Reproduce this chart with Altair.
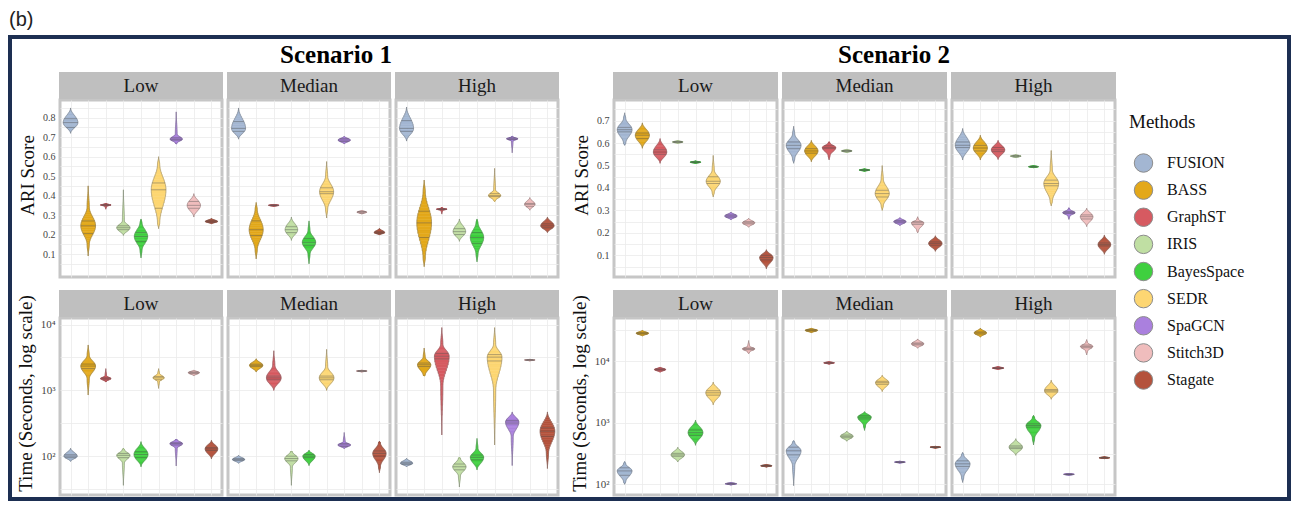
import altair as alt
import numpy as np
import pandas as pd

METHODS = ["FUSION", "BASS", "GraphST", "IRIS", "BayesSpace", "SEDR", "SpaGCN", "Stitch3D", "Stagate"]
COLORS = ["#a3b6d2", "#e3a81a", "#d65a61", "#c0dfa3", "#3fd03f", "#fdd672", "#aa80de", "#f0bdbd", "#b4523c"]
LEVELS = ["Low", "Median", "High"]

# each violin: (min, bulb bottom, q1, median, q3, bulb top, max, half width)
S1_ARI_LOW = [
    (0.72, 0.72, 0.750, 0.775, 0.795, 0.85, 0.85, 0.42),
    (0.09, 0.15, 0.205, 0.245, 0.270, 0.34, 0.45, 0.42),
    (0.33, 0.345, 0.349, 0.352, 0.355, 0.358, 0.36, 0.30),
    (0.195, 0.195, 0.225, 0.235, 0.245, 0.27, 0.43, 0.38),
    (0.08, 0.12, 0.165, 0.19, 0.21, 0.26, 0.28, 0.38),
    (0.23, 0.26, 0.335, 0.43, 0.465, 0.56, 0.60, 0.42),
    (0.665, 0.67, 0.685, 0.69, 0.697, 0.715, 0.83, 0.35),
    (0.29, 0.29, 0.335, 0.35, 0.37, 0.41, 0.41, 0.38),
    (0.255, 0.255, 0.262, 0.267, 0.272, 0.283, 0.283, 0.35),
]
S1_ARI_MED = [
    (0.69, 0.69, 0.73, 0.745, 0.78, 0.85, 0.85, 0.40),
    (0.075, 0.12, 0.195, 0.225, 0.27, 0.33, 0.365, 0.40),
    (0.345, 0.345, 0.348, 0.35, 0.352, 0.355, 0.355, 0.30),
    (0.17, 0.17, 0.21, 0.225, 0.24, 0.29, 0.29, 0.36),
    (0.05, 0.10, 0.145, 0.16, 0.18, 0.22, 0.27, 0.38),
    (0.285, 0.33, 0.41, 0.42, 0.44, 0.50, 0.575, 0.40),
    (0.665, 0.665, 0.678, 0.685, 0.692, 0.705, 0.705, 0.35),
    (0.305, 0.305, 0.31, 0.315, 0.318, 0.325, 0.325, 0.28),
    (0.198, 0.198, 0.205, 0.21, 0.215, 0.232, 0.232, 0.30),
]
S1_ARI_HIGH = [
    (0.68, 0.68, 0.73, 0.745, 0.785, 0.855, 0.855, 0.40),
    (0.035, 0.08, 0.185, 0.26, 0.32, 0.42, 0.48, 0.42),
    (0.305, 0.325, 0.328, 0.33, 0.333, 0.336, 0.338, 0.30),
    (0.165, 0.165, 0.20, 0.215, 0.23, 0.28, 0.28, 0.36),
    (0.06, 0.10, 0.155, 0.185, 0.21, 0.26, 0.28, 0.38),
    (0.37, 0.375, 0.395, 0.40, 0.41, 0.43, 0.54, 0.35),
    (0.62, 0.68, 0.688, 0.692, 0.697, 0.702, 0.705, 0.32),
    (0.325, 0.325, 0.345, 0.355, 0.36, 0.39, 0.39, 0.30),
    (0.21, 0.21, 0.235, 0.245, 0.255, 0.29, 0.29, 0.38),
]
S2_ARI_LOW = [
    (0.59, 0.60, 0.65, 0.66, 0.67, 0.71, 0.735, 0.42),
    (0.577, 0.577, 0.62, 0.635, 0.645, 0.69, 0.69, 0.40),
    (0.51, 0.51, 0.55, 0.56, 0.57, 0.62, 0.62, 0.38),
    (0.598, 0.598, 0.603, 0.605, 0.607, 0.612, 0.612, 0.30),
    (0.509, 0.509, 0.513, 0.515, 0.517, 0.521, 0.521, 0.30),
    (0.36, 0.38, 0.42, 0.43, 0.45, 0.48, 0.545, 0.40),
    (0.258, 0.258, 0.27, 0.275, 0.28, 0.293, 0.293, 0.35),
    (0.225, 0.225, 0.24, 0.245, 0.25, 0.265, 0.265, 0.35),
    (0.04, 0.04, 0.08, 0.09, 0.10, 0.125, 0.125, 0.38),
]
S2_ARI_MED = [
    (0.51, 0.53, 0.575, 0.59, 0.605, 0.64, 0.675, 0.42),
    (0.517, 0.517, 0.555, 0.565, 0.575, 0.612, 0.612, 0.38),
    (0.525, 0.545, 0.575, 0.58, 0.588, 0.60, 0.606, 0.38),
    (0.557, 0.557, 0.563, 0.565, 0.567, 0.573, 0.573, 0.30),
    (0.474, 0.474, 0.478, 0.48, 0.482, 0.486, 0.486, 0.30),
    (0.30, 0.32, 0.36, 0.375, 0.39, 0.44, 0.50, 0.40),
    (0.232, 0.232, 0.245, 0.25, 0.255, 0.268, 0.268, 0.35),
    (0.20, 0.21, 0.238, 0.245, 0.25, 0.26, 0.272, 0.35),
    (0.118, 0.118, 0.145, 0.153, 0.16, 0.187, 0.187, 0.38),
]
S2_ARI_HIGH = [
    (0.525, 0.525, 0.58, 0.59, 0.605, 0.665, 0.665, 0.42),
    (0.525, 0.525, 0.565, 0.578, 0.59, 0.635, 0.635, 0.40),
    (0.527, 0.527, 0.562, 0.57, 0.58, 0.612, 0.612, 0.38),
    (0.535, 0.535, 0.539, 0.542, 0.545, 0.549, 0.549, 0.30),
    (0.490, 0.490, 0.493, 0.495, 0.497, 0.500, 0.500, 0.28),
    (0.32, 0.34, 0.41, 0.42, 0.435, 0.48, 0.567, 0.42),
    (0.26, 0.275, 0.287, 0.29, 0.295, 0.305, 0.312, 0.35),
    (0.228, 0.228, 0.262, 0.272, 0.28, 0.31, 0.31, 0.36),
    (0.105, 0.105, 0.142, 0.148, 0.155, 0.19, 0.19, 0.36),
]
S1_TIME_LOW = [
    (83, 83, 95, 100, 105, 132, 132, 0.38),
    (850, 1510, 2140, 2340, 2510, 3390, 4900, 0.42),
    (1350, 1380, 1450, 1510, 1560, 1660, 2140, 0.30),
    (36, 79, 95, 103, 110, 126, 132, 0.38),
    (69, 69, 95, 106, 117, 166, 166, 0.40),
    (1070, 1350, 1450, 1550, 1620, 1820, 2140, 0.32),
    (71, 132, 148, 155, 160, 178, 180, 0.36),
    (1660, 1660, 1800, 1860, 1910, 2040, 2040, 0.32),
    (91, 91, 122, 129, 135, 174, 174, 0.36),
]
S1_TIME_MED = [
    (78, 78, 86, 89, 92, 103, 103, 0.35),
    (1900, 1900, 2300, 2400, 2500, 3020, 3020, 0.38),
    (1000, 1000, 1450, 1550, 1650, 2400, 4000, 0.42),
    (36, 69, 85, 92, 100, 117, 118, 0.38),
    (72, 72, 95, 100, 106, 123, 123, 0.35),
    (1000, 1000, 1450, 1550, 1650, 2290, 4200, 0.42),
    (130, 130, 140, 148, 155, 166, 229, 0.36),
    (1900, 1900, 1950, 1970, 1990, 2030, 2030, 0.30),
    (56, 70, 100, 110, 120, 158, 170, 0.38),
]
S1_TIME_HIGH = [
    (69, 69, 75, 78, 81, 93, 93, 0.35),
    (1660, 1700, 2300, 2450, 2600, 3200, 4400, 0.38),
    (210, 1200, 3000, 3300, 3650, 5000, 9000, 0.42),
    (34, 50, 62, 69, 76, 93, 95, 0.38),
    (62, 62, 88, 96, 104, 130, 186, 0.38),
    (148, 1000, 2800, 3200, 3500, 5000, 9000, 0.42),
    (72, 200, 310, 330, 350, 470, 470, 0.38),
    (2800, 2800, 2870, 2900, 2930, 2970, 2970, 0.30),
    (65, 112, 200, 240, 270, 470, 470, 0.42),
]
S2_TIME_LOW = [
    (100, 110, 140, 165, 185, 215, 235, 0.42),
    (25500, 25500, 27500, 28300, 29000, 31600, 31600, 0.35),
    (6600, 6600, 7100, 7300, 7500, 8000, 8000, 0.32),
    (230, 230, 285, 300, 318, 400, 400, 0.38),
    (430, 430, 620, 690, 760, 1100, 1100, 0.42),
    (1950, 1950, 2800, 3060, 3300, 4560, 4560, 0.42),
    (97, 97, 100, 102, 104, 107, 107, 0.32),
    (13200, 14000, 15300, 15800, 16300, 17500, 21600, 0.35),
    (190, 190, 197, 200, 203, 210, 210, 0.32),
]
S2_TIME_MED = [
    (95, 200, 300, 350, 400, 480, 513, 0.42),
    (28800, 28800, 30800, 31600, 32400, 34300, 34300, 0.35),
    (8900, 8900, 9200, 9380, 9550, 9800, 9800, 0.30),
    (500, 500, 570, 600, 630, 730, 730, 0.36),
    (750, 900, 1150, 1230, 1300, 1510, 1510, 0.38),
    (3200, 3200, 4200, 4460, 4700, 5900, 5900, 0.38),
    (220, 220, 226, 229, 232, 238, 238, 0.30),
    (16200, 16200, 18300, 19000, 19700, 22900, 22900, 0.35),
    (385, 385, 395, 400, 405, 415, 415, 0.30),
]
S2_TIME_HIGH = [
    (107, 130, 195, 215, 240, 300, 330, 0.42),
    (24500, 24500, 27500, 28700, 29800, 34300, 34300, 0.35),
    (7300, 7300, 7600, 7700, 7800, 8200, 8200, 0.32),
    (295, 295, 380, 400, 420, 550, 550, 0.38),
    (435, 560, 850, 900, 960, 1200, 1320, 0.42),
    (2400, 2400, 3150, 3300, 3450, 4900, 4900, 0.38),
    (140, 140, 143, 145, 147, 150, 150, 0.30),
    (12600, 14500, 16500, 17300, 18200, 20000, 22400, 0.35),
    (260, 260, 266, 270, 274, 280, 280, 0.30),
]

ARI_TICKS_S1 = [0.05, 0.1, 0.15, 0.2, 0.25, 0.3, 0.35, 0.4, 0.45, 0.5, 0.55, 0.6, 0.65, 0.7, 0.75, 0.8, 0.85]
ARI_TICKS_S2 = [0.05, 0.1, 0.15, 0.2, 0.25, 0.3, 0.35, 0.4, 0.45, 0.5, 0.55, 0.6, 0.65, 0.7, 0.75]
TIME_TICKS = [31.6, 100, 316, 1000, 3162, 10000, 31623]

SERIF = "Liberation Serif"
GRID = "#ebebeb"
HEAD = "#bfbfbf"
BORDER = "#c6c6c6"
NAVY = "#1d2f52"
PH = 177
NSEG = 10

cscale = alt.Scale(domain=METHODS, range=COLORS)


def build(vals, log):
    """Turn the violin summaries into an outline (rect slices + edge path) and quartile rules."""
    fwd = (lambda v: np.log10(v)) if log else (lambda v: v)
    inv = (lambda t: 10 ** t) if log else (lambda t: t)
    srows, orows, rrows = [], [], []
    for i, (lo, bb, q1, md, q3, bt, hi, w) in enumerate(vals):
        c = i + 1
        tw = 0.15 * w
        knots = [(lo, 0.0)]
        if bb > lo:
            knots.append((bb, tw))
        knots.append((md, w))
        if bt < hi:
            knots.append((bt, tw))
        knots.append((hi, 0.0))
        samp = []
        for (v0, h0), (v1, h1) in zip(knots[:-1], knots[1:]):
            t0, t1 = fwd(v0), fwd(v1)
            for s in np.linspace(0, 1, NSEG, endpoint=False):
                e = (1 - np.cos(np.pi * s)) / 2
                samp.append((t0 + (t1 - t0) * s, h0 + (h1 - h0) * e))
        samp.append((fwd(hi), 0.0))
        for (ta, ha), (tb, hb) in zip(samp[:-1], samp[1:]):
            hm = (ha + hb) / 2
            srows.append({"m": METHODS[i], "v": inv(ta), "v2": inv(tb), "xl": c - hm, "xr": c + hm})
        k = 0
        for t, h in samp:
            orows.append({"m": METHODS[i], "k": k, "v": inv(t), "xl": c - h})
            k += 1
        for t, h in reversed(samp):
            orows.append({"m": METHODS[i], "k": k, "v": inv(t), "xl": c + h})
            k += 1
        ts = [s[0] for s in samp]
        hs = [s[1] for s in samp]
        for q in (q1, md, q3):
            h = float(np.interp(fwd(q), ts, hs))
            rrows.append({"m": METHODS[i], "v": q, "xl": c - h, "xr": c + h})
    return pd.DataFrame(srows), pd.DataFrame(orows), pd.DataFrame(rrows)


def panel(vals, level, kind, show_axis, width, ydomain, ticks, title):
    log = kind == "time"
    sdf, odf, rdf = build(vals, log)
    xs = alt.Scale(domain=[0.4, 9.6], nice=False, zero=False)
    if log:
        ys = alt.Scale(type="log", domain=ydomain, nice=False)
        lexpr = ("datum.value > 70 && datum.value < 150 ? '10²' : "
                 "datum.value > 700 && datum.value < 1500 ? '10³' : "
                 "datum.value > 7000 && datum.value < 15000 ? '10⁴' : ''")
    else:
        ys = alt.Scale(domain=ydomain, nice=False, zero=False)
        lexpr = "abs(datum.value * 10 - round(datum.value * 10)) < 0.01 ? format(datum.value, '.1f') : ''"
    xaxis = alt.Axis(labels=False, ticks=False, domain=False, title=None, grid=True,
                     values=list(range(1, 10)), gridColor=GRID, gridWidth=0.8)
    if show_axis:
        yaxis = alt.Axis(values=ticks, labelExpr=lexpr, grid=True, gridColor=GRID, gridWidth=0.8,
                         ticks=False, domain=False, labelFont=SERIF,
                         labelFontSize=10 if not log else 11, labelColor="#444", labelPadding=5,
                         title=title, titleFont=SERIF, titleFontSize=19, titleFontWeight="normal",
                         titleColor="#111", titlePadding=5, titleY=(PH - 27) / 2)
    else:
        yaxis = alt.Axis(values=ticks, labels=False, ticks=False, domain=False, title=None,
                         grid=True, gridColor=GRID, gridWidth=0.8)
    X = alt.X("xl:Q", scale=xs, axis=xaxis)
    Y = alt.Y("v:Q", scale=ys, axis=yaxis)
    color = alt.Color("m:N", scale=cscale, legend=None)
    stroke = alt.Stroke("m:N", scale=cscale, legend=None)
    body = alt.Chart(sdf).mark_rect(strokeWidth=0.5).encode(
        x=X, x2="xr:Q", y=Y, y2="v2:Q", color=color, stroke=stroke)
    outline = alt.Chart(odf).mark_line(color="#6e6e6e", strokeWidth=0.5, opacity=0.85).encode(
        x=X, y=Y, detail="m:N", order=alt.Order("k:Q"))
    rules = alt.Chart(rdf).mark_rule(color="#4a4a4a", strokeWidth=0.6, opacity=0.7).encode(
        x=X, x2="xr:Q", y=Y)
    hdf = pd.DataFrame({"t": [level]})
    head = alt.Chart(hdf).mark_rect(color=HEAD).encode(
        x=alt.value(-1), x2=alt.value(width + 1), y=alt.value(-28), y2=alt.value(-1))
    htxt = alt.Chart(hdf).mark_text(font=SERIF, fontSize=19, color="#1a1a1a", baseline="middle").encode(
        x=alt.value(width / 2), y=alt.value(-14), text="t:N")
    return alt.layer(body, outline, rules, head, htxt).properties(
        width=width, height=PH, view=alt.ViewBackground(stroke=BORDER, strokeWidth=3, fill="white"))


def row(groups, kind, width, ydomain, ticks, title):
    return alt.hconcat(*[
        panel(g, lv, kind, i == 0, width, ydomain, ticks, title)
        for i, (g, lv) in enumerate(zip(groups, LEVELS))
    ], spacing=0)


s1 = alt.vconcat(
    row([S1_ARI_LOW, S1_ARI_MED, S1_ARI_HIGH], "ari", 162, [-0.018, 0.891], ARI_TICKS_S1, "ARI Score"),
    row([S1_TIME_LOW, S1_TIME_MED, S1_TIME_HIGH], "time", 162, [25.7, 12590], TIME_TICKS,
        "Time (Seconds, log scale)"),
    spacing=9)
s2 = alt.vconcat(
    row([S2_ARI_LOW, S2_ARI_MED, S2_ARI_HIGH], "ari", 163, [0.0035, 0.792], ARI_TICKS_S2, "ARI Score"),
    row([S2_TIME_LOW, S2_TIME_MED, S2_TIME_HIGH], "time", 163, [67, 50100], TIME_TICKS,
        "Time (Seconds, log scale)"),
    spacing=9)

# legend
ldf = pd.DataFrame({"m": METHODS, "i": list(range(len(METHODS)))})
tdf = pd.DataFrame({"t": ["Methods"], "i": [-1.5]})
LY = alt.Y("i:Q", scale=alt.Scale(domain=[-2.323, 8.737], reverse=True, nice=False, zero=False), axis=None)
leg_pts = alt.Chart(ldf).mark_circle(size=340, opacity=1, stroke="#8c8c8c", strokeWidth=1).encode(
    x=alt.value(24.5), y=LY, color=alt.Color("m:N", scale=cscale, legend=None))
leg_txt = alt.Chart(ldf).mark_text(font=SERIF, fontSize=16, align="left", baseline="middle", color="#111").encode(
    x=alt.value(48), y=LY, text="m:N")
leg_title = alt.Chart(tdf).mark_text(font=SERIF, fontSize=19, align="left", baseline="middle", color="#111").encode(
    x=alt.value(10), y=LY, text="t:N")
legend = alt.layer(leg_pts, leg_txt, leg_title).properties(width=160, height=300)

body = alt.hconcat(alt.hconcat(s1, s2, spacing=7), legend, spacing=1)

# decorations: figure label, scenario titles, outer frame
one = pd.DataFrame({"a": [0]})
frame = alt.Chart(one).mark_rect(fillOpacity=0, stroke=NAVY, strokeWidth=4).encode(
    x=alt.value(-50), x2=alt.value(1229), y=alt.value(-62), y2=alt.value(400))
blabel = alt.Chart(pd.DataFrame({"t": ["(b)"]})).mark_text(
    font="Liberation Sans", fontSize=20, align="left", baseline="middle", color="#222").encode(
    x=alt.value(-51), y=alt.value(-79), text="t:N")
sdf_t = pd.DataFrame({"t": ["Scenario 1", "Scenario 2"], "px": [276, 834]})
stitles = alt.Chart(sdf_t).mark_text(font=SERIF, fontSize=25, fontWeight="bold", baseline="middle",
                                     color="#000").encode(
    x=alt.X("px:Q", scale=alt.Scale(domain=[0, 1], range=[0, 1]), axis=None),
    y=alt.value(-44), text="t:N")
strip = alt.layer(frame, blabel, stitles).properties(width=1, height=1)

chart = alt.vconcat(strip, body, spacing=0, bounds="flush").properties(
    padding={"top": 2, "left": 0, "right": 0, "bottom": 0}, background="white").configure_view(stroke=None)

chart.save("out.html", embed_options={"renderer": "svg", "actions": False})
